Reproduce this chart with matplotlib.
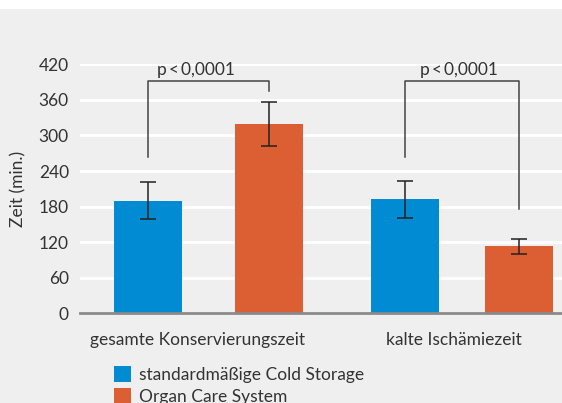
import numpy as np
import matplotlib.pyplot as plt
from matplotlib.patches import Rectangle

plt.rcParams['font.family'] = ['Lato', 'DejaVu Sans']

categories = ['gesamte Konservierungszeit', 'kalte Ischämiezeit']
series = ['standardmäßige Cold Storage', 'Organ Care System']
cold_mean = [190, 192]
cold_err = [31, 32]
ocs_mean = [320, 113]
ocs_err = [37, 13]
yticks = [0, 60, 120, 180, 240, 300, 360, 420]
p_labels = ['p\u2009<\u20090,0001', 'p\u2009<\u20090,0001']
bracket_top = [392, 392]
bracket_left = [263, 263]
bracket_right = [375, 176]

blue = '#008bd2'
orange = '#db5f33'
bg = '#efefef'
txt = '#333333'
fs = 12.5

W, H = 562, 403
fig = plt.figure(figsize=(W / 100, H / 100), dpi=100, facecolor=bg)
fig.patches.append(Rectangle((0, 1 - 9 / H), 1, 9 / H, transform=fig.transFigure,
                             facecolor='white', edgecolor='none', zorder=0))

ax = fig.add_axes([80 / W, (H - 313.3) / H, (W - 80) / W, (313.3 - 64.3) / H])
ax.set_facecolor(bg)

# positions in pixel-ish units from the left of the axes
blue_x = np.array([68, 325])
ocs_x = np.array([189, 439])
bw = 68

ax.bar(blue_x, cold_mean, bw, color=blue, zorder=3, label=series[0])
ax.bar(ocs_x, ocs_mean, bw, color=orange, zorder=3, label=series[1])
ax.errorbar(blue_x, cold_mean, yerr=cold_err, fmt='none', ecolor='#222222',
            elinewidth=1.1, capsize=6, capthick=1.1, zorder=4)
ax.errorbar(ocs_x, ocs_mean, yerr=ocs_err, fmt='none', ecolor='#222222',
            elinewidth=1.1, capsize=6, capthick=1.1, zorder=4)

ax.set_xlim(0, W - 80)
ax.set_ylim(0, 420)
ax.set_yticks(yticks)
ax.set_yticklabels([str(v) for v in yticks], fontsize=fs, color=txt)
ax.tick_params(axis='y', length=0, pad=8)
ax.set_xticks([])
ax.grid(axis='y', color='white', linewidth=2, zorder=1)
ax.set_axisbelow(True)
for s in ['left', 'right', 'top']:
    ax.spines[s].set_visible(False)
ax.spines['bottom'].set_color('#8a8a8a')
ax.spines['bottom'].set_linewidth(2)
ax.spines['bottom'].set_zorder(5)

ax.set_ylabel('Zeit (min.)', fontsize=fs, color=txt, labelpad=9)

# significance brackets
p_shift = [-13, -3]
for i in range(2):
    xl, xr = blue_x[i], ocs_x[i]
    ax.plot([xl, xl, xr, xr], [bracket_left[i], bracket_top[i], bracket_top[i], bracket_right[i]],
            color='#444444', lw=1.1, clip_on=False, zorder=4)
    ax.text((xl + xr) / 2 + p_shift[i], bracket_top[i] + 5, p_labels[i], ha='center',
            va='bottom', fontsize=fs, color=txt, clip_on=False)

# category labels
cat_x = [117, 374]
for cx, c in zip(cat_x, categories):
    ax.text(cx, -45, c, ha='center', va='center', fontsize=fs, color=txt, clip_on=False)

leg = fig.legend(loc='upper left', bbox_to_anchor=(114 / W, 1 - 366 / H), frameon=False,
                 fontsize=fs, handlelength=1.0, handleheight=1.0, handletextpad=0.45,
                 labelspacing=0.3, borderaxespad=0, borderpad=0, labelcolor=txt)

fig.savefig('out.png', dpi=100, facecolor=bg)
